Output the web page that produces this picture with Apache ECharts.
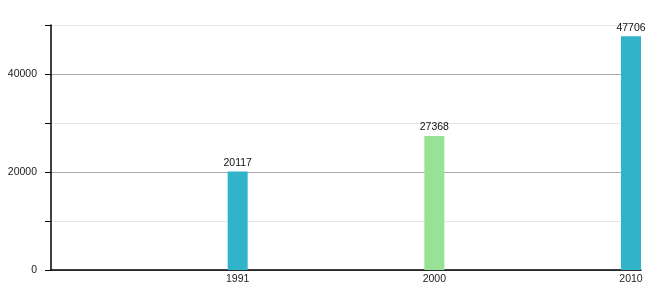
<!DOCTYPE html>
<html><head><meta charset="utf-8">
<script src="https://cdn.jsdelivr.net/npm/echarts@6/dist/echarts.min.js"></script>
<style>html,body{margin:0;padding:0;background:#fff}#c{width:660px;height:300px}</style>
</head><body><div id="c"></div>
<script>
var categories = ['1991', '2000', '2010'];
var values = [20117, 27368, 47706];
var barColors = ['#31b3c9', '#98e296', '#31b3c9'];
var yTicks = [0, 20000, 40000];

var axisCats = [''].concat(categories);
var chart = echarts.init(document.getElementById('c'), null, {renderer: 'canvas'});
chart.setOption({
  animation: false,
  textStyle: {fontFamily: 'Liberation Sans, Arial, sans-serif'},
  grid: {left: 51, right: 19, top: 25, bottom: 30},
  xAxis: {
    type: 'category', data: axisCats, boundaryGap: false,
    axisLine: {lineStyle: {color: '#000', width: 1.5}},
    axisTick: {show: false},
    axisLabel: {color: '#222', fontSize: 10.5, margin: 4, padding: [0, 20, 0, 0]},
    splitLine: {show: false}
  },
  yAxis: {
    type: 'value', min: 0, max: 50000, interval: 10000,
    axisLine: {show: true, lineStyle: {color: '#000', width: 1.5}},
    axisTick: {show: true, length: 6, lineStyle: {color: '#000'}},
    axisLabel: {color: '#222', fontSize: 10.5, margin: 14,
      formatter: function (v) { return yTicks.indexOf(v) >= 0 ? String(v) : ''; }},
    splitLine: {show: true, lineStyle: {color: ['#aaaaaa', '#e6e6e6'], width: 1}}
  },
  series: [
    {
      type: 'bar', barWidth: 20, barGap: '0%',
      data: [null].concat(values.map(function (v, i) { return {value: v, itemStyle: {color: barColors[i]}}; })),
      label: {show: true, position: 'top', distance: 3, color: '#111', fontSize: 10.5}
    },
    {
      type: 'bar', barWidth: 20, barGap: '0%',
      data: axisCats.map(function () { return null; })
    }
  ]
});
</script></body></html>
